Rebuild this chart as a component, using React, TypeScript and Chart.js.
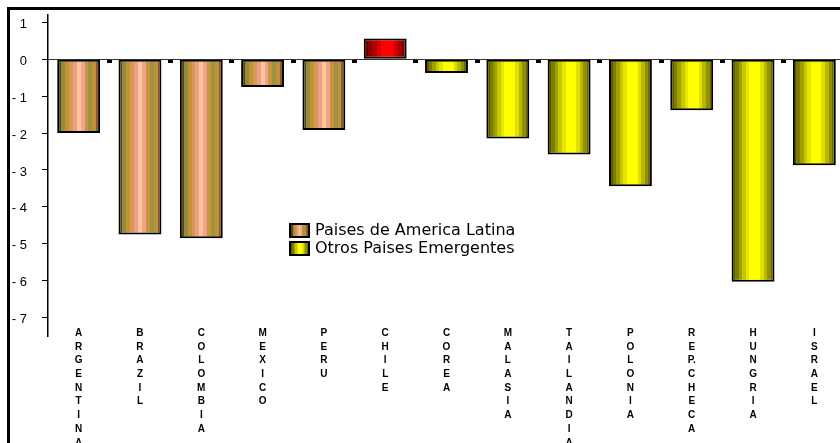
import React, { useEffect, useRef } from 'react';
import { Chart, registerables } from 'chart.js';

Chart.register(...registerables);

// Countries on the category axis, written one letter per line.
const countries = [
  'ARGENTINA', 'BRAZIL', 'COLOMBIA', 'MEXICO', 'PERU', 'CHILE',
  'COREA', 'MALASIA', 'TAILANDIA', 'POLONIA', 'REP.CHECA', 'HUNGRIA', 'ISRAEL',
];

const seriesNames = ['Paises de America Latina', 'Otros Paises Emergentes'];

const latinAmerica = [-2.0, -4.75, -4.85, -0.75, -1.92, 0.56, null, null, null, null, null, null, null];
const otherEmerging = [null, null, null, null, null, null, -0.37, -2.15, -2.58, -3.44, -1.38, -6.03, -2.87];

const yTickValues = [1, 0, -1, -2, -3, -4, -5, -6, -7];
const yMin = -7.5;
const yMax = 1.2;

// Vertical stripe palettes for the cylinder-like bar fills.
const latinStripes = ['#5c4420', '#8f8c3c', '#c39236', '#d49a4e', '#ee9c8c', '#ffc792', '#f0a394', '#c9953a', '#9a953e', '#c0903a', '#8a5a2c'];
const yellowStripes = ['#5a5a00', '#7d7d00', '#a0a000', '#c8c800', '#e6e600', '#ffff00', '#ffff00', '#ffff00', '#e0e000', '#b8b800', '#909000', '#6a6a00'];
const redStripes = ['#700000', '#900000', '#b00000', '#d80000', '#ff0000', '#ff0000', '#ff0000', '#d00000', '#a80000', '#800000'];

const BAR_FRACTION = 0.7;

const splitLetters = (name: string) => name.match(/.\.?/g) || [];

function stripeGradient(ctx: CanvasRenderingContext2D, x0: number, x1: number, stripes: string[]) {
  const g = ctx.createLinearGradient(x0, 0, x1, 0);
  const n = stripes.length;
  stripes.forEach((c, i) => {
    g.addColorStop(i / n, c);
    g.addColorStop(Math.min(1, (i + 1) / n - 0.0001), c);
  });
  return g;
}

function cssStripes(stripes: string[]) {
  const n = stripes.length;
  const parts = stripes.map((c, i) => `${c} ${(i * 100) / n}% ${((i + 1) * 100) / n}%`);
  return `linear-gradient(to right, ${parts.join(', ')})`;
}

function barFill(stripes: string[]) {
  return (c: any) => {
    const chart = c.chart;
    const xs = chart.scales && chart.scales.x;
    if (!xs || c.dataIndex === undefined || !chart.chartArea) return stripes[Math.floor(stripes.length / 2)];
    const v = c.raw;
    const palette = typeof v === 'number' && v > 0 ? redStripes : stripes;
    const cx = xs.getPixelForValue(c.dataIndex);
    const half = (xs.width / countries.length) * BAR_FRACTION / 2;
    return stripeGradient(chart.ctx, cx - half, cx + half, palette);
  };
}

// Small square marks on the zero line between categories.
const zeroMarks = {
  id: 'zeroMarks',
  afterDatasetsDraw(chart: any) {
    const xs = chart.scales.x;
    const ys = chart.scales.y;
    const y0 = ys.getPixelForValue(0);
    const ctx = chart.ctx;
    ctx.save();
    ctx.fillStyle = '#000';
    for (let i = 1; i < countries.length; i++) {
      const b = (xs.getPixelForValue(i - 1) + xs.getPixelForValue(i)) / 2;
      ctx.fillRect(Math.round(b - 2.5), Math.round(y0 + 1), 5, 3);
    }
    ctx.restore();
  },
};

export default function App() {
  const canvasRef = useRef<HTMLCanvasElement | null>(null);

  useEffect(() => {
    if (!canvasRef.current) return;
    const chart = new Chart(canvasRef.current, {
      type: 'bar',
      data: {
        labels: countries.map(splitLetters),
        datasets: [
          { label: seriesNames[0], data: latinAmerica, backgroundColor: barFill(latinStripes) },
          { label: seriesNames[1], data: otherEmerging, backgroundColor: barFill(yellowStripes) },
        ],
      },
      options: {
        responsive: false,
        animation: false,
        layout: { padding: { left: 0, top: 15, right: 15, bottom: 0 } },
        datasets: {
          bar: {
            borderColor: '#000',
            borderWidth: 2,
            borderSkipped: false,
            categoryPercentage: BAR_FRACTION,
            barPercentage: 1,
          },
        },
        plugins: {
          legend: { display: false },
          tooltip: { enabled: false },
        },
        scales: {
          x: {
            stacked: true,
            grid: { display: false },
            border: { display: false },
            ticks: {
              autoSkip: false,
              maxRotation: 0,
              minRotation: 0,
              // labels start slightly above the bottom of the value axis
              mirror: true,
              padding: -4,
              color: '#000',
              font: { family: '"Liberation Sans", Arial, sans-serif', size: 10, weight: 'bold', lineHeight: 1.37 },
            },
            afterFit: (s: any) => {
              s.height = 107;
              s.paddingLeft = 0;
              s.paddingRight = 0;
            },
          },
          y: {
            min: yMin,
            max: yMax,
            afterBuildTicks: (s: any) => {
              s.ticks = yTickValues.map((v) => ({ value: v }));
            },
            grid: {
              color: (c: any) => (c.tick && c.tick.value === 0 ? '#333' : 'rgba(0,0,0,0)'),
              lineWidth: 1,
              drawTicks: true,
              tickLength: 6,
              tickColor: '#000',
              tickWidth: 1,
            },
            border: { display: true, color: '#000', width: 1.5 },
            ticks: {
              padding: 15,
              labelOffset: 2,
              color: '#000',
              font: { family: '"Liberation Sans", Arial, sans-serif', size: 13 },
              callback: (v: any) => (v < 0 ? '- ' + Math.abs(v) : String(v)),
            },
            afterFit: (s: any) => {
              s.width = 48;
              s.paddingTop = 0;
              s.paddingBottom = 0;
            },
          },
        },
      },
      plugins: [zeroMarks],
    });
    return () => chart.destroy();
  }, []);

  const legendRow = (text: string, stripes: string[]) => (
    <div style={{ display: 'flex', alignItems: 'center', height: 18 }}>
      <div
        style={{
          width: 21,
          height: 15,
          boxSizing: 'border-box',
          border: '2px solid #000',
          background: cssStripes(stripes),
          marginRight: 5,
        }}
      />
      <span style={{ fontFamily: '"DejaVu Sans", sans-serif', fontSize: 16, color: '#000', lineHeight: '18px' }}>{text}</span>
    </div>
  );

  return (
    <div style={{ position: 'fixed', left: 0, top: 0, width: 840, height: 443, overflow: 'hidden', background: '#fff' }}>
      <div
        style={{
          position: 'absolute',
          left: 7,
          top: 7,
          width: 900,
          height: 500,
          borderLeft: '3px solid #000',
          borderTop: '3px solid #000',
        }}
      />
      <canvas ref={canvasRef} width={860} height={443} style={{ position: 'absolute', left: 0, top: 0 }} />
      <div style={{ position: 'absolute', left: 289, top: 221 }}>
        {legendRow(seriesNames[0], latinStripes)}
        {legendRow(seriesNames[1], yellowStripes)}
      </div>
    </div>
  );
}
